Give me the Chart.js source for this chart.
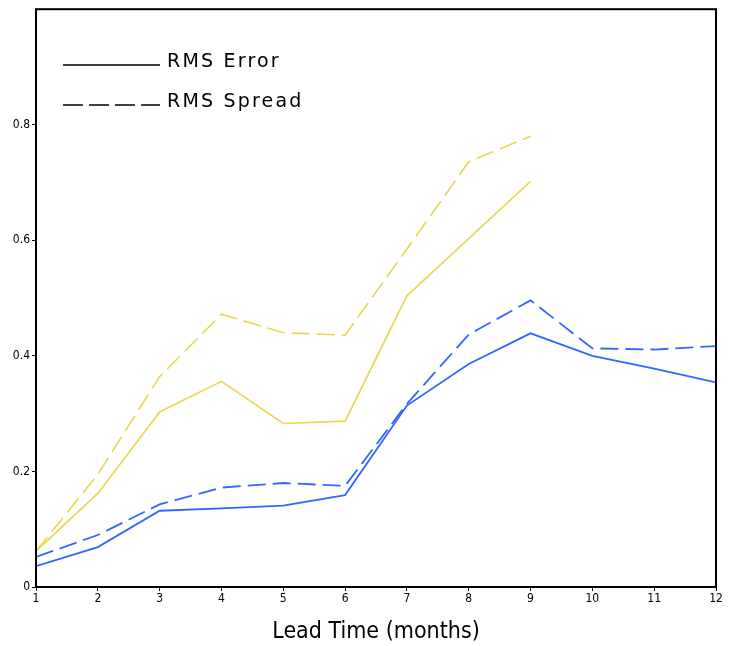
<!DOCTYPE html>
<html>
<head>
<meta charset="utf-8">
<script src="https://cdn.jsdelivr.net/npm/chart.js@4"></script>
<style>
html,body{margin:0;padding:0;background:#fff;}
#wrap{width:729px;height:646px;}
</style>
</head>
<body>
<div id="wrap"><canvas id="c" width="729" height="646"></canvas></div>
<script>
const leadTimes = [1,2,3,4,5,6,7,8,9,10,11,12];
const yellowError  = [0.062,0.162,0.303,0.356,0.283,0.287,0.504,0.603,0.702,null,null,null];
const yellowSpread = [0.062,0.195,0.364,0.472,0.440,0.436,0.585,0.736,0.780,null,null,null];
const blueError    = [0.036,0.069,0.132,0.136,0.141,0.159,0.314,0.386,0.439,0.400,0.378,0.354];
const blueSpread   = [0.052,0.090,0.143,0.172,0.180,0.175,0.317,0.437,0.496,0.413,0.411,0.417];
const yTicks = [0,0.2,0.4,0.6,0.8];
const legendLabels = ['RMS Error','RMS Spread'];

const YELLOW = '#e8d84c';
const BLUE = '#3366ff';
const FONT = "'Liberation Sans Narrow','DejaVu Sans Condensed','Liberation Sans',sans-serif";

function pts(arr){ return leadTimes.map((x,i)=>({x:x,y:arr[i]})).filter(p=>p.y!==null); }

const framePlugin = {
  id:'frame',
  afterDraw(chart){
    const ctx = chart.ctx, a = chart.chartArea;
    ctx.save();
    ctx.strokeStyle = '#000';
    ctx.lineWidth = 2;
    ctx.strokeRect(a.left, a.top, a.right-a.left, a.bottom-a.top);
    // legend
    const lx0 = 63, lx1 = 160, tx = 167;
    const rows = [{y:65,dash:[]},{y:105,dash:[20,6]}];
    ctx.lineWidth = 1.6;
    ctx.fillStyle = '#000';
    ctx.font = "19px 'DejaVu Sans', sans-serif";
    ctx.textBaseline = 'alphabetic';
    try{ ctx.letterSpacing = '2.2px'; }catch(e){}
    rows.forEach((r,i)=>{
      ctx.setLineDash(r.dash);
      ctx.beginPath(); ctx.moveTo(lx0,r.y); ctx.lineTo(lx1,r.y); ctx.stroke();
      ctx.setLineDash([]);
      ctx.fillText(legendLabels[i], tx, r.y+2);
    });
    ctx.restore();
  }
};

new Chart(document.getElementById('c'), {
  type:'line',
  data:{
    datasets:[
      {data:pts(yellowSpread), borderColor:YELLOW, borderWidth:1.6, borderDash:[18,7], pointRadius:0, tension:0, fill:false},
      {data:pts(yellowError),  borderColor:YELLOW, borderWidth:1.6, pointRadius:0, tension:0, fill:false},
      {data:pts(blueSpread),   borderColor:BLUE, borderWidth:1.8, borderDash:[18,7], pointRadius:0, tension:0, fill:false},
      {data:pts(blueError),    borderColor:BLUE, borderWidth:1.8, pointRadius:0, tension:0, fill:false}
    ]
  },
  options:{
    responsive:false,
    animation:false,
    devicePixelRatio:1,
    layout:{padding:{top:8,right:13,left:0,bottom:0}},
    plugins:{legend:{display:false}, tooltip:{enabled:false}},
    scales:{
      x:{
        type:'linear', min:1, max:12,
        afterBuildTicks(s){ s.ticks = leadTimes.map(v=>({value:v})); },
        afterFit(s){ s.height = 59; },
        grid:{drawOnChartArea:false, drawTicks:true, tickLength:4, color:'#000'},
        border:{display:false},
        ticks:{color:'#000', font:{family:FONT,size:12}, padding:1, maxRotation:0, autoSkip:false,
               callback:(v)=>String(v)},
        title:{display:true, text:'Lead Time (months)', color:'#000', font:{family:FONT,size:23}, padding:{top:4,bottom:0}}
      },
      y:{
        min:0, max:1,
        afterBuildTicks(s){ s.ticks = yTicks.map(v=>({value:v})); },
        afterFit(s){ s.width = 36; },
        grid:{drawOnChartArea:false, drawTicks:true, tickLength:4, color:'#000'},
        border:{display:false},
        ticks:{color:'#000', font:{family:FONT,size:12}, padding:2,
               callback:(v)=> v===0 ? '0' : String(v)}
      }
    }
  },
  plugins:[framePlugin]
});
</script>
</body>
</html>
